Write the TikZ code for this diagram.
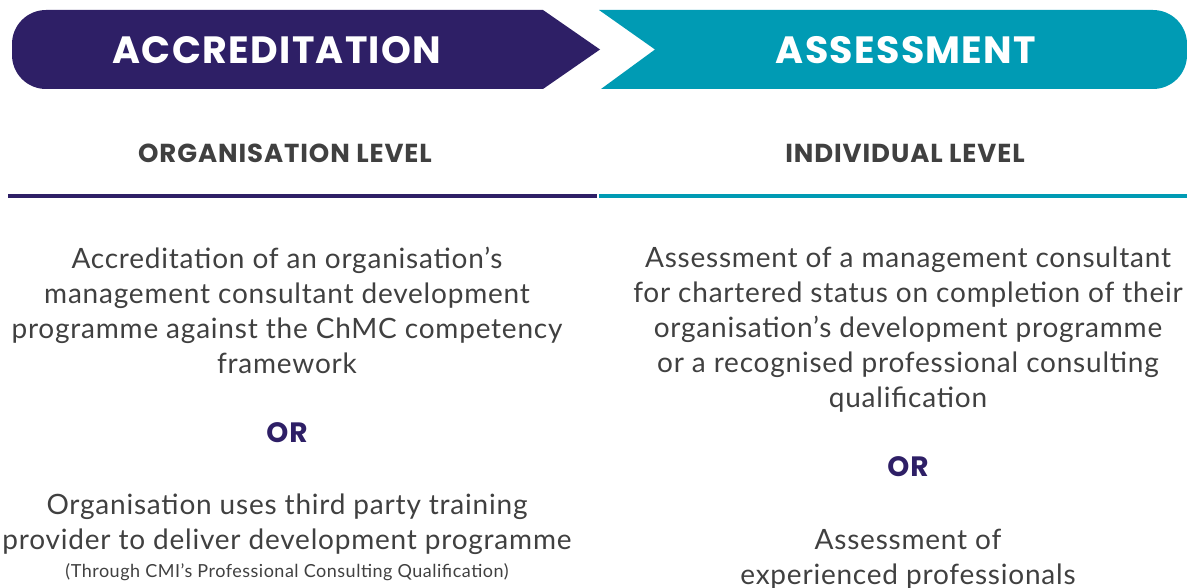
\documentclass[tikz,border=0pt]{standalone}
\usepackage{fontspec}
\setmainfont{Lato}[LetterSpace=2.8]
\newfontfamily\headfont{Poppins}[LetterSpace=3.5]
\usetikzlibrary{positioning}

\definecolor{accpurple}{HTML}{2E1F66}
\definecolor{assteal}{HTML}{009BB4}
\definecolor{bodygray}{HTML}{404040}

\tikzset{
  bannertext/.style={text=white, font=\headfont\fontsize{38}{40}\selectfont\bfseries},
  levelhead/.style={text=bodygray, font=\headfont\fontsize{26}{28}\selectfont\bfseries},
  bodytext/.style={text=bodygray, align=center, font=\fontsize{28}{35}\selectfont},
  ortext/.style={text=accpurple, font=\headfont\fontsize{28}{30}\selectfont\bfseries},
  smalltext/.style={text=bodygray, font=\fontsize{18}{20}\selectfont}
}

\begin{document}
\begin{tikzpicture}[x=1pt, y=-1pt]
    % Canvas
    \useasboundingbox (0,0) rectangle (1187,588);

    % Accreditation banner (rounded left, arrow tip right)
    \fill[accpurple] (543,10) -- (600,49.5) -- (543,89) -- (46,89)
        arc[start angle=90, end angle=180, radius=34] -- (12,44)
        arc[start angle=180, end angle=270, radius=34] -- cycle;

    % Assessment banner (notched left, rounded right)
    \fill[assteal] (599,10) -- (1153,10)
        arc[start angle=270, end angle=360, radius=34] -- (1187,55)
        arc[start angle=0, end angle=90, radius=34] -- (601,89)
        -- (655,49.5) -- cycle;

    \node[bannertext] (acc) at (277,50) {ACCREDITATION};
    \node[bannertext] (ass) at (906,50) {ASSESSMENT};

    % Level headings and rules
    \node[levelhead] (orglevel) at (285,153) {ORGANISATION LEVEL};
    \node[levelhead] (indlevel) at (905,153) {INDIVIDUAL LEVEL};

    \draw[accpurple, line width=4] (8,196) -- (597,196);
    \draw[assteal, line width=4] (599,196) -- (1187,196);

    % Left column
    \node[bodytext] (accdesc) at (287,310) {Accreditation of an organisation’s\\
        management consultant development\\
        programme against the ChMC competency\\
        framework};
    \node[ortext] (orleft) at (287,433) {OR};
    \node[bodytext] (thirdparty) at (287,524.5) {Organisation uses third party training\\
        provider to deliver development programme};
    \node[smalltext] (cmi) at (287,572) {(Through CMI’s Professional Consulting Qualification)};

    % Right column
    \node[bodytext] (assdesc) at (908,330) {Assessment of a management consultant\\
        for chartered status on completion of their\\
        organisation’s development programme\\
        or a recognised professional consulting\\
        qualification};
    \node[ortext] (orright) at (908,467) {OR};
    \node[bodytext] (experienced) at (908,559) {Assessment of\\
        experienced professionals};
\end{tikzpicture}
\end{document}
